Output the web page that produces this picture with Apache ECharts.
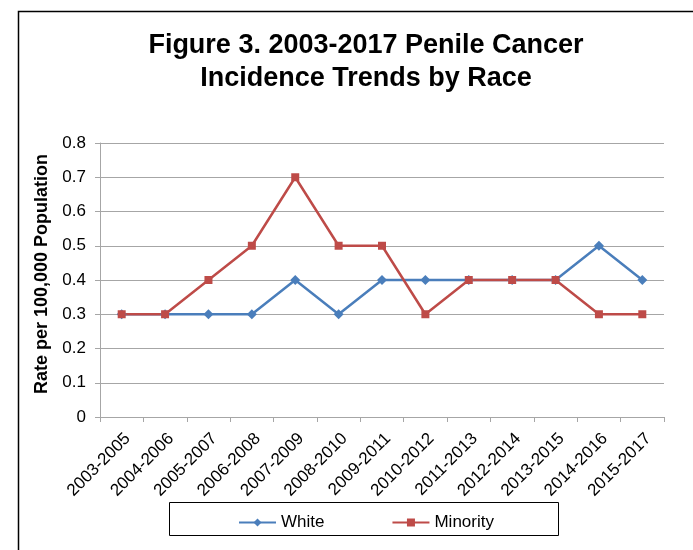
<!DOCTYPE html>
<html><head><meta charset="utf-8">
<script src="https://cdn.jsdelivr.net/npm/echarts@6/dist/echarts.min.js"></script>
<style>html,body{margin:0;padding:0;background:#fff}#c{width:693px;height:550px}</style>
</head><body><div id="c"></div>
<script>
var categories = ['2003-2005','2004-2006','2005-2007','2006-2008','2007-2009','2008-2010','2009-2011','2010-2012','2011-2013','2012-2014','2013-2015','2014-2016','2015-2017'];
var white = [0.3,0.3,0.3,0.3,0.4,0.3,0.4,0.4,0.4,0.4,0.4,0.5,0.4];
var minority = [0.3,0.3,0.4,0.5,0.7,0.5,0.5,0.3,0.4,0.4,0.4,0.3,0.3];
var yTicks = [0,0.1,0.2,0.3,0.4,0.5,0.6,0.7,0.8];

var font = '"Liberation Sans", Arial, sans-serif';
var chart = echarts.init(document.getElementById('c'), null, {renderer:'canvas'});
chart.setOption({
  animation:false,
  backgroundColor:'#fff',
  textStyle:{fontFamily:font},
  title:{
    text:'Figure 3. 2003-2017 Penile Cancer\nIncidence Trends by Race',
    left:361, top:24, textAlign:'center',
    textStyle:{fontSize:27, fontWeight:'bold', color:'#000', lineHeight:33, fontFamily:font}
  },
  graphic:[
    {type:'rect', shape:{x:18.5,y:11.5,width:700,height:600}, style:{fill:null, stroke:'#000', lineWidth:1.5}, silent:true, z:-1},
    {type:'rect', shape:{x:169.5,y:502.5,width:389,height:33}, style:{fill:null, stroke:'#000', lineWidth:1}, silent:true}
  ],
  legend:{
    left:233, top:509, itemGap:67, itemWidth:37, itemHeight:10,
    textStyle:{fontSize:17, color:'#000', fontFamily:font},
    data:['White','Minority']
  },
  grid:{left:100, right:29, top:143, bottom:133},
  xAxis:{
    type:'category', data:categories, boundaryGap:true,
    axisLine:{lineStyle:{color:'#a6a6a6', width:1}},
    axisTick:{show:true, alignWithLabel:false, length:5, lineStyle:{color:'#a6a6a6'}},
    axisLabel:{rotate:45, fontSize:17, color:'#000', margin:13, interval:0, fontFamily:font,
      align:'right', verticalAlign:'top'}
  },
  yAxis:{
    type:'value', min:0, max:0.8, interval:0.1,
    name:'Rate per 100,000 Population', nameLocation:'middle', nameGap:45, nameRotate:90,
    nameTextStyle:{fontSize:18, fontWeight:'bold', color:'#000', fontFamily:font, padding:[0,0,0,12]},
    axisLine:{show:true, lineStyle:{color:'#a6a6a6'}},
    axisTick:{show:true, length:5, lineStyle:{color:'#a6a6a6'}},
    axisLabel:{fontSize:17, color:'#000', margin:14, fontFamily:font,
      formatter:function(v){ var t = yTicks.find(function(x){return Math.abs(x-v)<1e-9;}); return t===undefined? '' : (t===0?'0':String(t)); }},
    splitLine:{show:true, lineStyle:{color:'#a6a6a6', width:1}}
  },
  series:[
    {name:'White', type:'line', data:white, color:'#4a7ebb', symbol:'diamond', symbolSize:10,
     lineStyle:{width:2.5, color:'#4a7ebb'}, itemStyle:{color:'#4a7ebb'}},
    {name:'Minority', type:'line', data:minority, color:'#be4b48', symbol:'rect', symbolSize:8,
     lineStyle:{width:2.5, color:'#be4b48'}, itemStyle:{color:'#be4b48'}}
  ]
});
</script></body></html>
